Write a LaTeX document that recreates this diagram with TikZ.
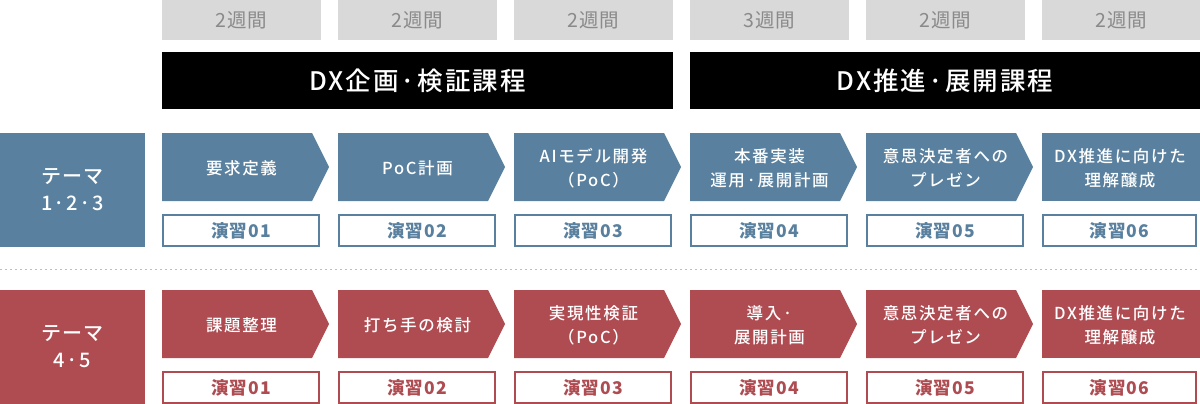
\documentclass[tikz,border=0pt]{standalone}
\usepackage{fontspec}
\setmainfont{Noto Sans CJK JP}
\newfontfamily\medfont{Noto Sans CJK JP Medium}
\usetikzlibrary{positioning}
\definecolor{themeblue}{RGB}{89,128,158}
\definecolor{themered}{RGB}{174,76,82}
\definecolor{weekgray}{RGB}{217,217,217}
\definecolor{weektext}{RGB}{138,138,138}
\definecolor{sepgray}{RGB}{190,190,190}
\tikzset{weekbox/.style={fill=weekgray, text=weektext, minimum width=159pt, minimum height=40pt, inner sep=0pt, font=\fontsize{19.5}{20}\selectfont\addfontfeature{LetterSpace=5}}}
\tikzset{coursebar/.style={fill=black, text=white, minimum height=57pt, inner sep=0pt, font=\medfont\fontsize{25.5}{28}\selectfont\addfontfeature{LetterSpace=8}}}
\tikzset{themebox/.style={fill=#1, text=white, minimum width=145pt, minimum height=114pt, inner sep=0pt, align=center, font=\medfont\fontsize{20}{27}\selectfont\addfontfeature{LetterSpace=7}}}
\tikzset{steptext/.style={text=white, align=center, inner sep=0pt, font=\medfont\fontsize{16.5}{24}\selectfont\addfontfeature{LetterSpace=10}}}
\tikzset{exbox/.style={draw=#1, line width=1.6pt, fill=white, text=#1, minimum width=156.4pt, minimum height=31.4pt, inner sep=0pt, font=\bfseries\fontsize{17.5}{19}\selectfont\addfontfeature{LetterSpace=7}}}
\tikzset{sepline/.style={sepgray, line width=1pt, dash pattern=on 2pt off 3pt}}

\begin{document}
\begin{tikzpicture}[x=1pt,y=-1pt]
      \useasboundingbox (0,0) rectangle (1200,404);
      % weeks
      \foreach \i/\wk in {0/2,1/2,2/2,3/3,4/2,5/2}
        \node[weekbox] (week\i) at ({241.5+176*\i},20) {\wk 週間};
      % courses
      \node[coursebar, minimum width=511pt] (planbar) at (417.5,80.5) {DX企画·検証課程};
      \node[coursebar, minimum width=510pt] (promobar) at (945,80.5) {DX推進·展開課程};
      % themes
      \node[themebox=themeblue] (themeA) at (72.5,190) {テーマ\\1·2·3};
      \node[themebox=themered] (themeB) at (72.5,347) {テーマ\\4·5};
      \coordinate (sepL) at (0,269);
      \coordinate (sepR) at (1200,269);
      \draw[sepline] (sepL) -- (sepR);
      % steps
      \foreach \i/\n/\ta/\tb in {0/1/要求定義/課題整理, 1/2/PoC計画/打ち手の検討,
          2/3/{AIモデル開発\\（PoC）}/{実現性検証\\（PoC）},
          3/4/{本番実装\\運用·展開計画}/{導入·\\展開計画},
          4/5/{意思決定者への\\プレゼン}/{意思決定者への\\プレゼン}}{
        \pgfmathsetmacro\L{162+176*\i}
        \fill[themeblue] (\L,133) -- ++(150,0) -- ++(17,34) -- ++(-17,34) -- ++(-150,0) -- cycle;
        \fill[themered] (\L,290) -- ++(150,0) -- ++(17,34) -- ++(-17,34) -- ++(-150,0) -- cycle;
        \node[steptext] (stepA\i) at ({\L+79.5},168) {\ta};
        \node[steptext] (stepB\i) at ({\L+79.5},325) {\tb};
        \node[exbox=themeblue] (exA\i) at ({\L+79},230.5) {演習0\n};
        \node[exbox=themered] (exB\i) at ({\L+79},387.5) {演習0\n};
      }
      % last column runs to the edge
      \fill[themeblue] (1042,133) rectangle (1200,201);
      \fill[themered] (1042,290) rectangle (1200,358);
      \node[steptext] (stepA5) at (1120,168) {DX推進に向けた\\理解醸成};
      \node[steptext] (stepB5) at (1120,325) {DX推進に向けた\\理解醸成};
      \node[exbox=themeblue, minimum width=153.4pt] (exA5) at (1119.5,230.5) {演習06};
      \node[exbox=themered, minimum width=153.4pt] (exB5) at (1119.5,387.5) {演習06};
    \end{tikzpicture}
\end{document}
